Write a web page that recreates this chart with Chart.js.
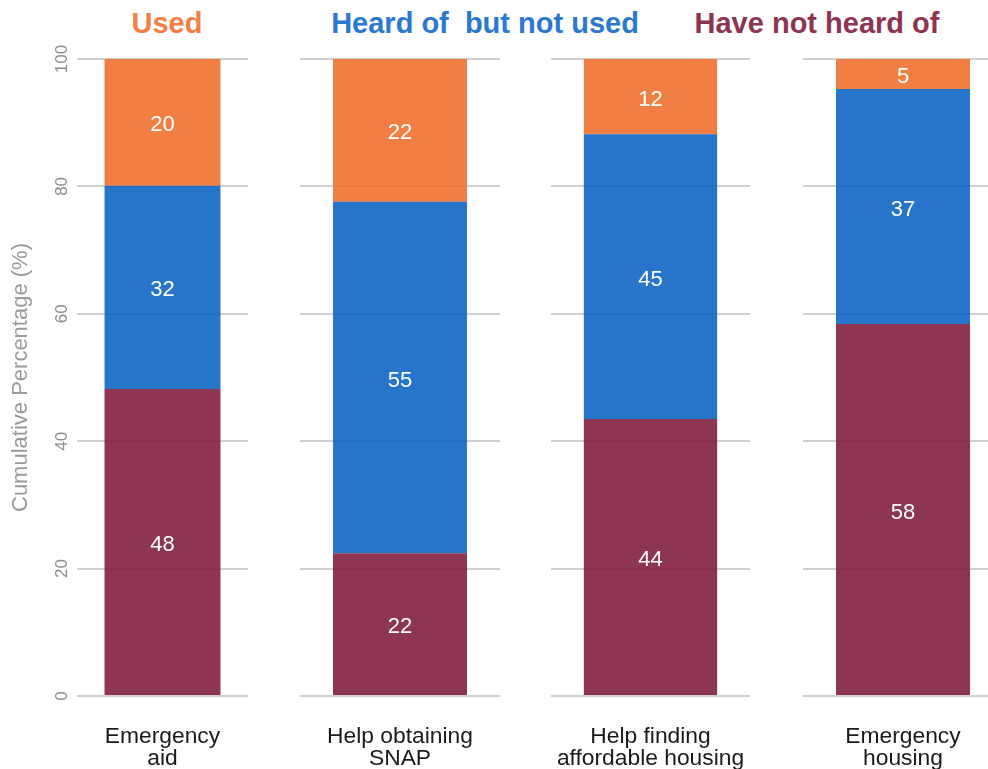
<!DOCTYPE html>
<html>
<head>
<meta charset="utf-8">
<script src="https://cdn.jsdelivr.net/npm/chart.js@4.4.1/dist/chart.umd.min.js"></script>
<style>
  html, body { margin: 0; padding: 0; background: #ffffff; overflow: hidden; width: 988px; height: 769px; }
  .panel { position: absolute; top: 0; height: 769px; }
  .hdr { position: absolute; top: 7px; font-family: "Liberation Sans", Arial, sans-serif; font-weight: bold; font-size: 29px; white-space: pre; transform: translateX(-50%); }
</style>
</head>
<body>
<div class="hdr" id="h0" style="left:167px;color:#F27F46;">Used</div>
<div class="hdr" id="h1" style="left:485px;color:#2A78D0;">Heard of  but not used</div>
<div class="hdr" id="h2" style="left:817px;color:#8E3452;">Have not heard of</div>
<div class="panel" style="left:0px;width:248px;"><canvas id="c0"></canvas></div>
<div class="panel" style="left:300px;width:200px;"><canvas id="c1"></canvas></div>
<div class="panel" style="left:551px;width:199px;"><canvas id="c2"></canvas></div>
<div class="panel" style="left:803px;width:200px;"><canvas id="c3"></canvas></div>
<script>
// ---- data ----
const categories = [["Emergency", "aid"], ["Help obtaining", "SNAP"], ["Help finding", "affordable housing"], ["Emergency", "housing"]];
const seriesNames = ["Have not heard of", "Heard of  but not used", "Used"];
const notHeardValues = [48.2, 22.4, 43.5, 58.4];
const heardValues = [31.9, 55.2, 44.7, 36.9];
const usedValues = [19.9, 22.4, 11.8, 4.7];
const yTicks = [0, 20, 40, 60, 80, 100];

const seriesColors = ["rgba(129,31,62,0.9)", "rgba(15,102,196,0.9)", "rgba(239,113,48,0.9)"];
const FONT = '"Liberation Sans", Arial, sans-serif';

const segLabels = {
  id: 'segLabels',
  afterDatasetsDraw(chart) {
    const ctx = chart.ctx;
    ctx.save();
    ctx.fillStyle = '#ffffff';
    ctx.font = '22px ' + FONT;
    ctx.textAlign = 'center';
    ctx.textBaseline = 'middle';
    chart.data.datasets.forEach((ds, di) => {
      const meta = chart.getDatasetMeta(di);
      meta.data.forEach((el, i) => {
        const v = ds.data[i];
        const cy = (el.y + el.base) / 2;
        ctx.fillText(String(Math.round(v)), el.x, cy + 3);
      });
    });
    ctx.restore();
  }
};

function makeChart(idx) {
  const first = idx === 0;
  const seriesData = [notHeardValues, heardValues, usedValues];
  new Chart(document.getElementById('c' + idx), {
    type: 'bar',
    data: {
      labels: [categories[idx]],
      datasets: seriesData.map((arr, si) => ({
        label: seriesNames[si],
        data: [arr[idx]],
        backgroundColor: seriesColors[si],
        borderWidth: 0,
        barPercentage: first ? 0.678 : 0.67,
        categoryPercentage: 1.0
      }))
    },
    options: {
      responsive: true,
      maintainAspectRatio: false,
      animation: false,
      layout: { padding: { top: 59, left: 0, right: 0, bottom: 0 } },
      plugins: { legend: { display: false }, tooltip: { enabled: false }, title: { display: false } },
      scales: {
        x: {
          stacked: true,
          grid: { display: false, drawTicks: false },
          border: { display: false },
          ticks: { color: '#1a1a1a', font: { family: FONT, size: 22.8, lineHeight: 0.97 }, padding: 30, maxRotation: 0, minRotation: 0, autoSkip: false },
          afterFit: s => { s.height = 73; s.paddingLeft = 0; s.paddingRight = 0; }
        },
        y: {
          stacked: true,
          min: 0, max: 100,
          afterBuildTicks: s => { s.ticks = yTicks.map(v => ({ value: v })); },
          grid: { color: 'rgba(200,200,200,0.85)', lineWidth: 2, drawTicks: false },
          border: { display: false },
          title: { display: first, text: 'Cumulative Percentage (%)', color: '#9a9a9a', font: { family: FONT, size: 22 }, padding: { top: 8, bottom: 0 } },
          ticks: { display: first, color: '#8a8a8a', font: { family: FONT, size: 17 }, minRotation: 90, maxRotation: 90, crossAlign: 'center', padding: 1 },
          afterFit: s => { s.width = first ? 77 : 0; }
        }
      }
    },
    plugins: [segLabels]
  });
}
for (let i = 0; i < 4; i++) makeChart(i);
</script>
</body>
</html>
